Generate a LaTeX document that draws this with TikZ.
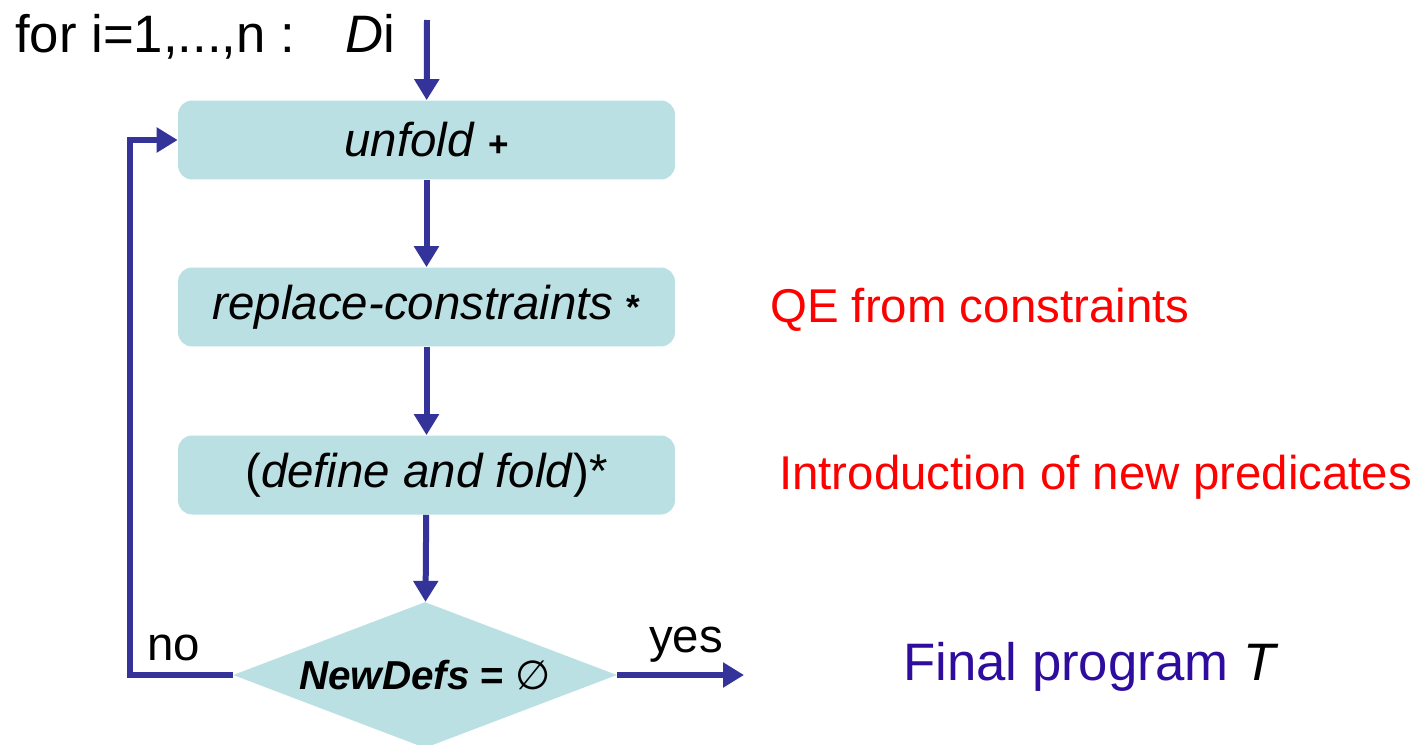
\documentclass[tikz,border=0pt]{standalone}
\usepackage{fontspec}
\setmainfont{Liberation Sans}
\newfontfamily\symbfont{DejaVu Sans}
\usetikzlibrary{shapes.geometric,arrows.meta}
\definecolor{boxfill}{HTML}{BAE0E3}
\definecolor{flowblue}{HTML}{333399}
\definecolor{finalblue}{HTML}{2E0D9E}
\newcommand\flowfont{\fontsize{27}{32}\selectfont}
\newcommand\headfont{\fontsize{30}{36}\selectfont}
\newcommand\condfont{\fontsize{23}{28}\selectfont}
\newcommand\markfont{\fontsize{20}{24}\selectfont\bfseries}

\begin{document}
\begin{tikzpicture}[x=0.02cm,y=-0.02cm,
    stepbox/.style={fill=boxfill, rounded corners=8pt, minimum width=9.94cm,
      minimum height=1.58cm, font=\flowfont},
    testbox/.style={diamond, aspect=2.63, fill=boxfill, inner sep=0pt,
      minimum width=7.68cm, minimum height=2.92cm, font=\condfont},
    flow/.style={flowblue, line width=0.12cm, -{Triangle[length=0.42cm,width=0.48cm]}},
    note/.style={font=\flowfont, red, anchor=west}]
  \useasboundingbox (0,0) rectangle (1423,744);

  \node[anchor=base west, font=\headfont] (Loop) at (9,52)
    {for i=1,...,n :\hspace{0.95em}\textit{D}i};
  \coordinate (In) at (427,20);

  \node[stepbox] (U) at (426.5,140) {\textit{unfold} {\markfont +}};
  \node[stepbox] (R) at (426.5,307) {\textit{replace-constraints} {\markfont *}};
  \node[stepbox] (F) at (426.5,475) {(\textit{define and fold})*};
  \node[testbox] (N) at (425,675)
    {\textbf{\textit{NewDefs}} \textbf{=} {\symbfont ∅}};

  \coordinate (Back) at (130,675);
  \coordinate (Out) at (744,675);

  \path (In) edge[flow] (U) (U) edge[flow] (R) (R) edge[flow] (F)
    (F) edge[flow] (N) (N.east) edge[flow] (Out);
  \draw[flow] (N.west) -- (Back) |- (U.west);

  \node[anchor=base west, font=\flowfont] (No) at (141,660) {no};
  \node[anchor=base west, font=\flowfont] (Yes) at (643,652) {yes};

  \node[note] (QE) at (764,310) {QE from constraints};
  \node[note] (Intro) at (773,477) {Introduction of new predicates};
  \node[note, anchor=base west, font=\headfont, text=finalblue] (T) at (897,680)
    {Final program \textcolor{black}{\textit{T}}};
\end{tikzpicture}
\end{document}
